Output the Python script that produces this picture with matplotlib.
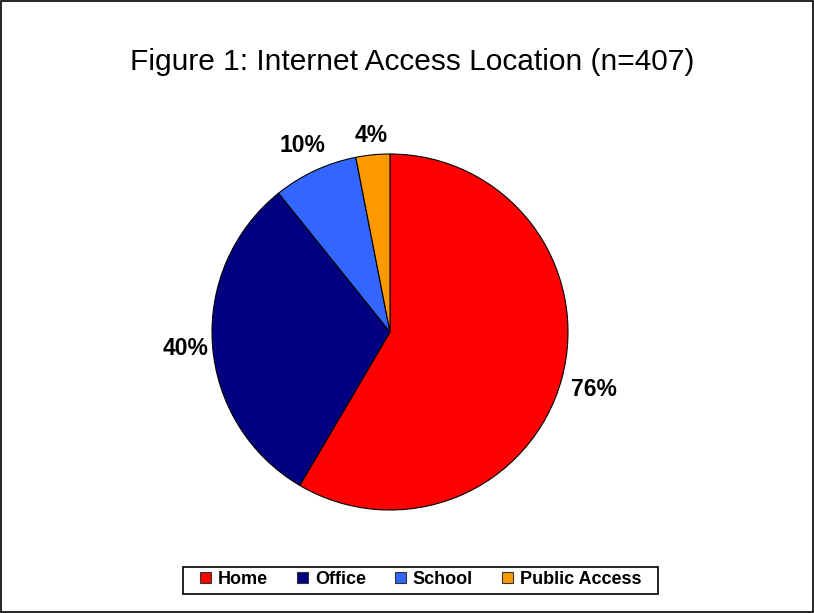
import numpy as np
import matplotlib.pyplot as plt
from matplotlib.patches import Rectangle

# данные по местам доступа в интернет (проценты, сумма больше 100 - можно выбрать несколько)
categories = ['Home', 'Office', 'School', 'Public Access']
values = [76, 40, 10, 4]
colors = ['#FF0000', '#000080', '#3366FF', '#FF9900']

plt.rcParams['font.family'] = ['Liberation Sans', 'DejaVu Sans']

fig = plt.figure(figsize=(8.14, 6.13), dpi=100)

# оси под круговую диаграмму: центр и радиус в пикселях
W, H = 814, 613
cx, cy, r = 390, 332, 178
pad = 1.1
ax = fig.add_axes([(cx - r * pad) / W, (H - cy - r * pad) / H, 2 * r * pad / W, 2 * r * pad / H])

wedges, _ = ax.pie(values, colors=colors, startangle=90, counterclock=False,
                   wedgeprops=dict(edgecolor='black', linewidth=0.8))
ax.set_xlim(-pad, pad)
ax.set_ylim(-pad, pad)
ax.set_aspect('equal')

# подписи с процентами снаружи, отступ от края подобран для каждой
label_dist = [1.188, 1.152, 1.169, 1.118]
for w, v, d in zip(wedges, values, label_dist):
    ang = np.deg2rad((w.theta1 + w.theta2) / 2)
    ax.text(d * np.cos(ang), d * np.sin(ang) - 0.047, f'{v}%', ha='center', va='baseline',
            fontsize=16.5, fontweight='bold')

# заголовок
fig.text(412 / W, 1 - 70 / H, 'Figure 1: Internet Access Location (n=407)',
         ha='center', va='baseline', fontsize=21.5)

# легенда внизу
leg = fig.legend(wedges, categories, loc='center', bbox_to_anchor=(420.5 / W, 1 - 579.5 / H),
                 ncol=4, frameon=False, prop=dict(weight='bold', size=13),
                 handlelength=0.6, handleheight=0.6, handletextpad=0.4,
                 columnspacing=1.6, borderpad=0, borderaxespad=0)
for h in leg.legend_handles:
    h.set_edgecolor('#333333')
    h.set_linewidth(0.8)

# рамка легенды с отступами по краям
fig.canvas.draw()
bb = leg.get_window_extent()
padx, pady = 17, 13.5
ymid = (bb.y0 + bb.y1) / 2 - 0.5
fig.patches.append(Rectangle(((bb.x0 - padx) / W, (ymid - pady) / H),
                             (bb.width + 2 * padx) / W, 2 * pady / H,
                             transform=fig.transFigure, fill=False,
                             edgecolor='black', linewidth=1.2))

# рамка вокруг всего рисунка
fig.patches.append(Rectangle((0.001, 0.001), 0.998, 0.998, transform=fig.transFigure,
                             fill=False, edgecolor='black', linewidth=1.2))

fig.savefig('out.png', dpi=100)
